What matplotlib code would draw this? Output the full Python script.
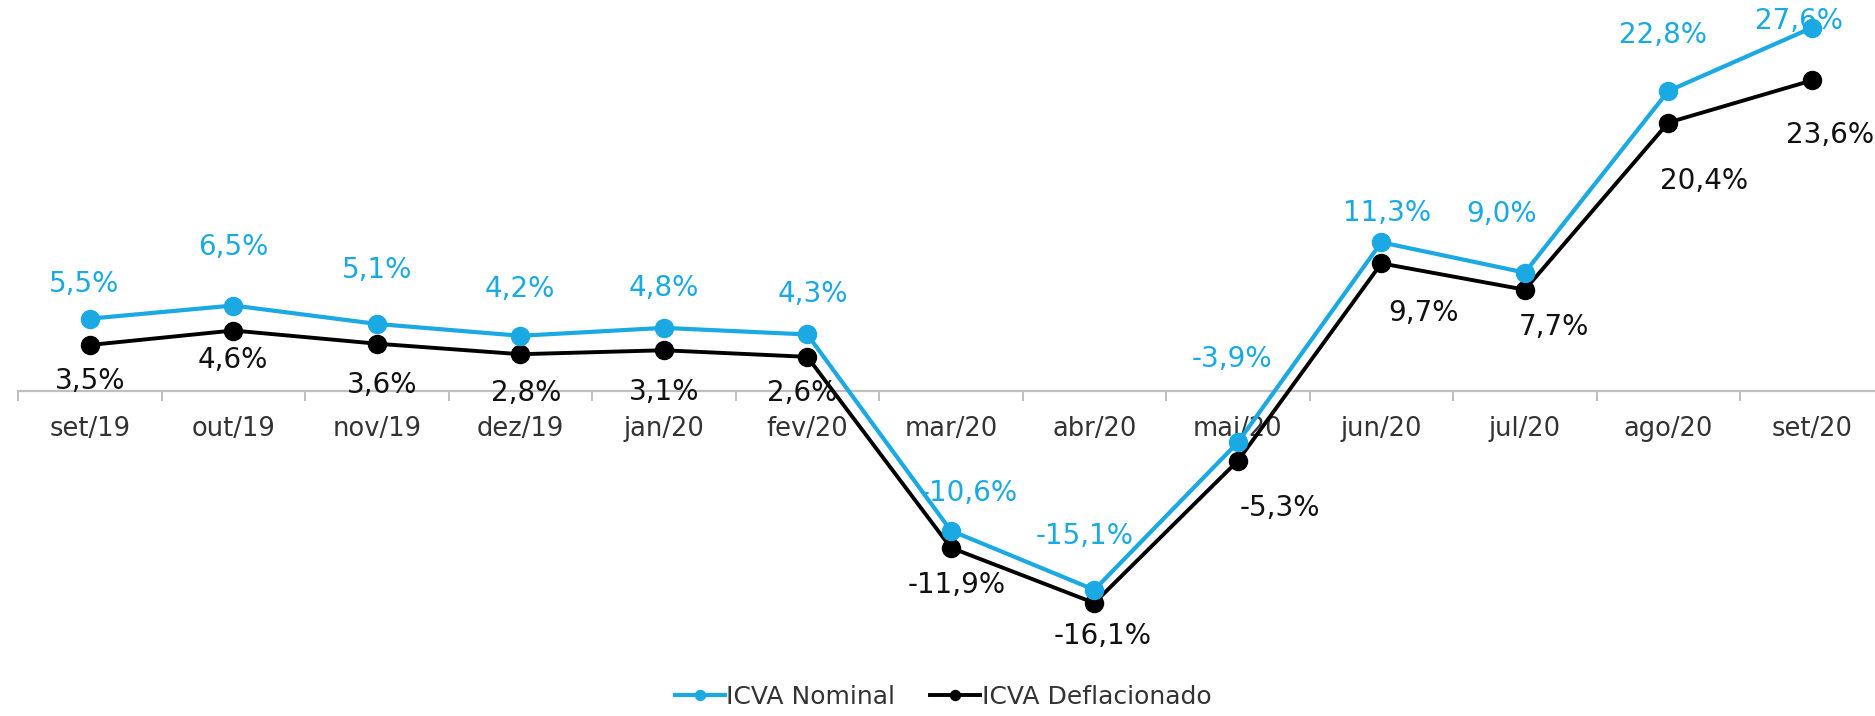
import matplotlib.pyplot as plt

months = ["set/19", "out/19", "nov/19", "dez/19", "jan/20", "fev/20", "mar/20",
          "abr/20", "mai/20", "jun/20", "jul/20", "ago/20", "set/20"]
nominal = [5.5, 6.5, 5.1, 4.2, 4.8, 4.3, -10.6, -15.1, -3.9, 11.3, 9.0, 22.8, 27.6]
deflated = [3.5, 4.6, 3.6, 2.8, 3.1, 2.6, -11.9, -16.1, -5.3, 9.7, 7.7, 20.4, 23.6]

BLUE = "#1AA9E3"
BLACK = "#000000"
GRID = "#BFBFBF"

# label offsets (points) relative to each marker
nom_off = [(-4, 25), (0, 42), (0, 39), (0, 34), (0, 29), (4, 29), (13, 27),
           (-7, 39), (-4, 60), (4, 21), (-17, 42), (-4, 40), (-9, 5)]
def_off = [(0, -26), (0, -21), (4, -30), (4, -28), (0, -30), (-4, -26), (4, -27),
           (6, -24), (30, -34), (30, -36), (21, -27), (26, -42), (13, -39)]


def fmt(v):
    return f"{v:.1f}%".replace(".", ",")


plt.rcParams['font.family'] = ['DejaVu Sans']

fig = plt.figure(figsize=(18.75, 7.16), dpi=100)
ax = fig.add_axes([0.0096, 0.106, 0.995, 0.894])

x = list(range(len(months)))
ax.plot(x, deflated, color=BLACK, linewidth=2.8, marker="o", markersize=13, zorder=3,
        label="ICVA Deflacionado")
ax.plot(x, nominal, color=BLUE, linewidth=3.0, marker="o", markersize=13, zorder=4,
        label="ICVA Nominal")

for i in x:
    ax.annotate(fmt(nominal[i]), (i, nominal[i]), xytext=nom_off[i], textcoords="offset points",
                ha="center", va="center", color=BLUE, fontsize=20, zorder=5)
    ax.annotate(fmt(deflated[i]), (i, deflated[i]), xytext=def_off[i], textcoords="offset points",
                ha="center", va="center", color="#111111", fontsize=20, zorder=5)

ax.set_xlim(-0.5, 12.5)
ax.set_ylim(-18.92, 29.71)

for s in ["top", "right", "left"]:
    ax.spines[s].set_visible(False)
ax.spines["bottom"].set_position(("data", 0))
ax.spines["bottom"].set_color(GRID)
ax.spines["bottom"].set_linewidth(1.6)
ax.spines["bottom"].set_zorder(1)

ax.set_yticks([])
ax.set_xticks(x)
ax.set_xticklabels(months, fontsize=18.5, color="#333333")
ax.set_xticks([i + 0.5 for i in range(-1, len(months))], minor=True)
ax.tick_params(axis="x", which="major", length=0, pad=18)
ax.tick_params(axis="x", which="minor", length=7, width=1.4, color=GRID, direction="out")

handles, labels = ax.get_legend_handles_labels()
fig.legend(handles[::-1], labels[::-1], loc="center", bbox_to_anchor=(0.503, 0.027), ncol=2,
           frameon=False, fontsize=18, handlelength=2.0, markerscale=0.55, columnspacing=1.4,
           handletextpad=0.05, labelcolor="#333333")

fig.savefig("out.png", dpi=100)
